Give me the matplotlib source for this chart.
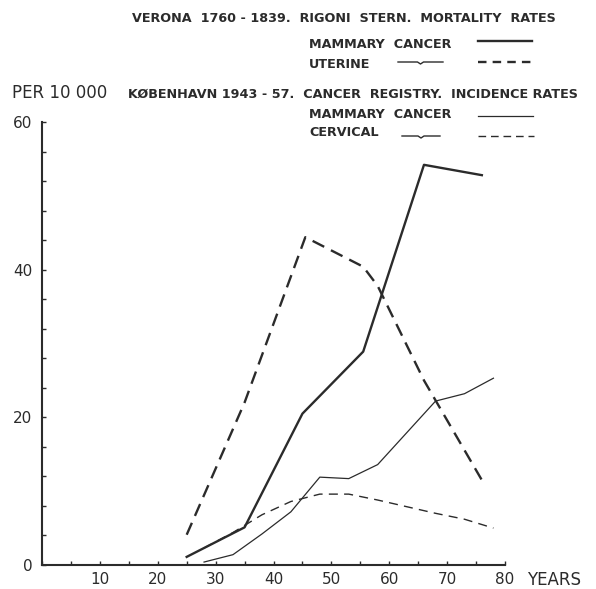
import matplotlib.pyplot as plt
from matplotlib.ticker import MultipleLocator

# Verona 1760-1839 (Rigoni Stern), mortality rates per 10 000
verona_age = [25, 35, 45, 55.5, 66, 76]
verona_mammary = [1.1, 5.1, 20.5, 28.9, 54.2, 52.8]
verona_uterine_age = [25, 35, 45.5, 55.5, 58, 66, 76]
verona_uterine = [4.1, 22.0, 44.4, 40.4, 37.8, 25.0, 11.5]

# Kobenhavn 1943-57, cancer registry, incidence rates per 10 000
cph_age = [28, 33, 38, 43, 48, 53, 58, 63, 68, 73, 78]
cph_mammary = [0.4, 1.4, 4.2, 7.2, 11.9, 11.7, 13.6, 17.9, 22.2, 23.2, 25.3]
cph_cervical = [2.3, 4.4, 6.8, 8.6, 9.6, 9.6, 8.8, 7.9, 7.0, 6.2, 5.0]

x_labels = ["10", "20", "30", "40", "50", "60", "70", "80"]
y_labels = ["0", "20", "40", "60"]

INK = "#2b2b2b"
W, H = 596, 589

plt.rcParams['font.family'] = ['DejaVu Sans']

fig = plt.figure(figsize=(W / 100, H / 100), dpi=100)
ax = fig.add_axes([42 / W, 1 - 565 / H, 463 / W, 443 / H])

ax.plot(verona_age, verona_mammary, color=INK, lw=1.7)
ax.plot(verona_uterine_age, verona_uterine, color=INK, lw=1.7, dashes=(5.5, 3.2))
ax.plot(cph_age, cph_mammary, color=INK, lw=0.9)
ax.plot(cph_age, cph_cervical, color=INK, lw=1.0, dashes=(6.5, 4.5))

ax.set_xlim(0, 80)
ax.set_ylim(0, 60)
for s in ("top", "right"):
    ax.spines[s].set_visible(False)
for s in ("left", "bottom"):
    ax.spines[s].set_linewidth(1.5)
    ax.spines[s].set_color(INK)

ax.set_xticks([10, 20, 30, 40, 50, 60, 70, 80], x_labels)
ax.xaxis.set_minor_locator(MultipleLocator(5))
ax.set_yticks([0, 20, 40, 60], y_labels)
ax.yaxis.set_minor_locator(MultipleLocator(4))
ax.tick_params(which="both", direction="in", length=3, width=1, color=INK,
               labelsize=11, labelcolor=INK)
ax.tick_params(axis="x", pad=5)
ax.tick_params(axis="y", pad=7)

# header / key drawn in pixel coordinates on an overlay
ov = fig.add_axes([0, 0, 1, 1])
ov.set_xlim(0, W)
ov.set_ylim(H, 0)
ov.axis("off")

txt = dict(color=INK, fontsize=9.2, fontweight="bold", va="center", ha="left")
ov.text(132, 19, "VERONA  1760 - 1839.  RIGONI  STERN.  MORTALITY  RATES", **txt)
ov.text(309, 44, "MAMMARY  CANCER", **txt)
ov.text(309, 65, "UTERINE", **txt)
ov.text(12, 93, "PER 10 000", color=INK, fontsize=12, va="center", ha="left")
ov.text(128, 94, "KØBENHAVN 1943 - 57.  CANCER  REGISTRY.  INCIDENCE RATES", **txt)
ov.text(309, 114, "MAMMARY  CANCER", **txt)
ov.text(309, 133, "CERVICAL", **txt)
ov.text(527, 580, "YEARS", color=INK, fontsize=12, va="center", ha="left")

ov.plot([478, 532], [41, 41], color=INK, lw=1.7)
ov.plot([478, 534], [62, 62], color=INK, lw=1.7, dashes=(3.6, 2.6))
ov.plot([478, 533], [116, 116], color=INK, lw=0.9)
ov.plot([478, 534], [136, 136], color=INK, lw=1.0, dashes=(5.5, 3.5))
for x1, x2, y in [(398, 443, 62), (402, 440, 136)]:
    m = (x1 + x2) / 2
    ov.plot([x1, m - 3, m, m + 3, x2], [y, y, y + 2, y, y], color=INK, lw=1.0)

fig.savefig("out.png", dpi=100)
